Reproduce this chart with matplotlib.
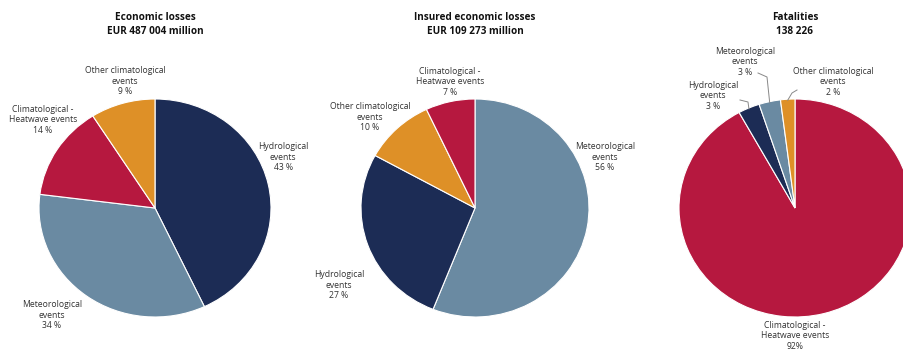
import matplotlib
matplotlib.use("Agg")
import matplotlib.pyplot as plt
import numpy as np

W, H = 904, 349
DPI = 100

# ---- data ----
titles = ["Economic losses\nEUR 487 004 million",
          "Insured economic losses\nEUR 109 273 million",
          "Fatalities\n138 226"]

econ_labels = ["Hydrological\nevents", "Meteorological\nevents",
               "Climatological -\nHeatwave events", "Other climatological\nevents"]
econ_values = [43, 34, 14, 9]

insured_labels = ["Meteorological\nevents", "Hydrological\nevents",
                  "Other climatological\nevents", "Climatological -\nHeatwave events"]
insured_values = [56, 27, 10, 7]

fatal_labels = ["Climatological -\nHeatwave events", "Hydrological\nevents",
                "Meteorological\nevents", "Other climatological\nevents"]
fatal_values = [92, 3, 3, 2]
fatal_pct_fmt = ["{}%", "{} %", "{} %", "{} %"]

# ---- styles ----
colors = {
    "Hydrological": "#1c2c55",
    "Meteorological": "#6a8aa2",
    "Climatological -": "#b6183f",
    "Other": "#de9027",
}
def color_for(lbl):
    for k, c in colors.items():
        if lbl.startswith(k):
            return c

plt.rcParams['font.family'] = ['Open Sans', 'DejaVu Sans']
fig = plt.figure(figsize=(W / DPI, H / DPI), dpi=DPI)

def px(x, y):
    return x / W, 1 - y / H

# pie geometry in pixels: center x, center y, rx, ry
geoms = [(155, 208, 116, 109), (475, 208, 114, 109), (795, 208, 116, 109)]

# label positions (pixel centers) for each pie
label_pos = [
    [(283, 157), (52, 315), (43, 120), (125, 81)],
    [(605, 157), (339, 285), (370, 117), (450, 82)],
    [(795, 336), (713, 96), (745, 62), (833, 82)],
]

datasets = [(econ_labels, econ_values, ["{} %"] * 4),
            (insured_labels, insured_values, ["{} %"] * 4),
            (fatal_labels, fatal_values, fatal_pct_fmt)]

axes = []
for i, ((labels, values, fmts), (cx, cy, rx, ry)) in enumerate(zip(datasets, geoms)):
    ax = fig.add_axes([(cx - rx) / W, (H - cy - ry) / H, 2 * rx / W, 2 * ry / H])
    wedges, _ = ax.pie(values, startangle=90, counterclock=False, radius=1,
                       colors=[color_for(l) for l in labels],
                       wedgeprops=dict(edgecolor="white", linewidth=0.8))
    ax.set_aspect('auto')
    ax.set_xlim(-1, 1)
    ax.set_ylim(-1, 1)
    ax.axis('off')
    axes.append(ax)
    # title
    tx, ty = px(cx, 24.5)
    fig.text(tx, ty, titles[i], ha='center', va='center', fontsize=7.2,
             fontweight='bold', color='#111111', linespacing=1.25)
    for lbl, v, f, (lx, ly) in zip(labels, values, fmts, label_pos[i]):
        x, y = px(lx, ly)
        fig.text(x, y, lbl + "\n" + f.format(v), ha='center', va='center',
                 fontsize=6.2, color='#333333', linespacing=1.15)

# leader lines for the small slices of the fatalities pie
cx, cy, rx, ry = geoms[2]
vals = np.array(fatal_values, dtype=float)
cum = np.cumsum(vals) / vals.sum() * 360
starts = np.concatenate([[0], cum[:-1]])
mids = (starts + cum) / 2
leader_from = {1: (740, 100), 2: (758, 73), 3: (797, 90)}
leader_knee = {1: (748, 102), 2: (767, 77), 3: (792, 93)}
for idx in (1, 2, 3):
    ang = np.deg2rad(90 - mids[idx])
    ex, ey = np.cos(ang), np.sin(ang)
    epx = cx + ex * rx
    epy = cy - ey * ry
    fx, fy = leader_from[idx]
    kx, ky = leader_knee[idx]
    xs = [fx, kx, epx]
    ys = [fy, ky, epy + 1]
    fig.add_artist(plt.Line2D([x / W for x in xs], [1 - y / H for y in ys],
                              color='#888888', linewidth=0.7,
                              transform=fig.transFigure))

fig.savefig("out.png", dpi=DPI)
